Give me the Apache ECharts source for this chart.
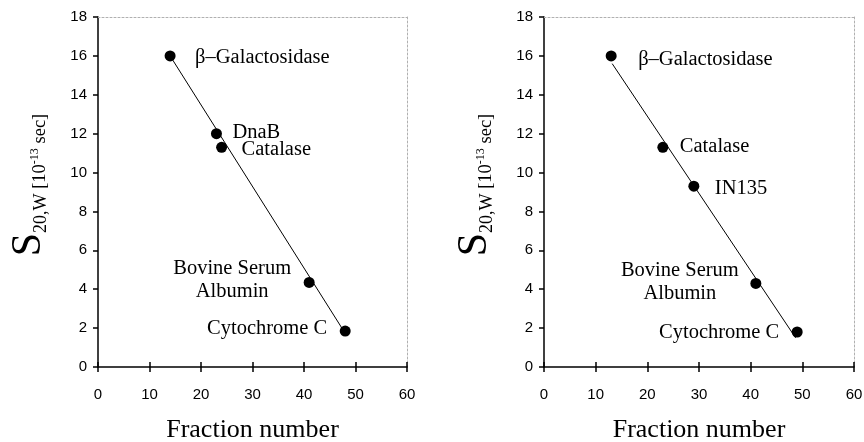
<!DOCTYPE html>
<html>
<head>
<meta charset="utf-8">
<script src="https://cdn.jsdelivr.net/npm/echarts@6/dist/echarts.min.js"></script>
<style>
  html, body { margin: 0; padding: 0; background: #fff; }
  #chart { width: 864px; height: 442px; }
</style>
</head>
<body>
<div id="chart"></div>
<script>
// 左图数据
var fractionA = [14, 23, 24, 41, 48];
var sedimentA = [16, 12, 11.3, 4.35, 1.85];
var proteinsA = ['β–Galactosidase', 'DnaB', 'Catalase', 'Bovine Serum\nAlbumin', 'Cytochrome C'];
var fitXA = [14, 47.6];
var fitYA = [16, 1.9];

// 右图数据
var fractionB = [13, 23, 29, 41, 49];
var sedimentB = [16, 11.3, 9.3, 4.3, 1.8];
var proteinsB = ['β–Galactosidase', 'Catalase', 'IN135', 'Bovine Serum\nAlbumin', 'Cytochrome C'];
var fitXB = [13.2, 48.7];
var fitYB = [15.6, 1.5];

var xTicks = [0, 10, 20, 30, 40, 50, 60];
var yTicks = [0, 2, 4, 6, 8, 10, 12, 14, 16, 18];

// 标签相对点中心的偏移 [dx, dy, align]
var labelPosA = [[25, 2, 'left'], [16, -1, 'left'], [20, 2, 'left'], [-77, -2, 'center'], [-18, -2, 'right']];
var labelPosB = [[27, 4, 'left'], [17, -1, 'left'], [21, 2, 'left'], [-76, -1, 'center'], [-18, 1, 'right']];

var serif = 'Liberation Serif';
var sans = 'Liberation Sans';

function points(xs, ys, names, pos) {
    return xs.map(function (x, i) {
        return {
            value: [x, ys[i]],
            name: names[i],
            label: {
                position: [pos[i][0] + 5.5, pos[i][1] + 5.5],
                align: pos[i][2],
                verticalAlign: 'middle'
            }
        };
    });
}

function mainX(g) {
    return {
        gridIndex: g, type: 'value', min: xTicks[0], max: xTicks[xTicks.length - 1], interval: 10,
        name: 'Fraction number', nameLocation: 'middle', nameGap: 50,
        nameTextStyle: { fontFamily: serif, fontSize: 26, color: '#000' },
        axisLine: { onZero: false, lineStyle: { color: '#000', width: 1.5 } },
        axisTick: { show: true, length: 5, lineStyle: { color: '#000', width: 1.5 } },
        axisLabel: { fontFamily: sans, fontSize: 15, color: '#000', margin: 20 },
        splitLine: { show: false }
    };
}
function innerX(g) {
    return {
        gridIndex: g, type: 'value', min: 0, max: 60, interval: 10, position: 'bottom',
        axisLine: { show: false, onZero: false },
        axisTick: { show: true, inside: true, length: 5, lineStyle: { color: '#000', width: 1.5 } },
        axisLabel: { show: false }, splitLine: { show: false }
    };
}
function frameX(g) {
    return {
        gridIndex: g, type: 'value', min: 0, max: 60, position: 'top',
        axisLine: { show: true, onZero: false, lineStyle: { color: '#b0b0b0', width: 1, type: [2, 2] } },
        axisTick: { show: false }, axisLabel: { show: false }, splitLine: { show: false }
    };
}
function mainY(g) {
    return {
        gridIndex: g, type: 'value', min: yTicks[0], max: yTicks[yTicks.length - 1], interval: 2,
        name: '{s|S}{sub|20,W}{b| [10}{sup|-13}{b| sec]}',
        nameLocation: 'middle', nameGap: 48,
        nameTextStyle: {
            fontFamily: serif, color: '#000', padding: [0, 0, 0, 14],
            rich: {
                s: { fontFamily: serif, fontSize: 42, lineHeight: 42, verticalAlign: 'bottom' },
                sub: { fontFamily: serif, fontSize: 18, lineHeight: 18, verticalAlign: 'bottom' },
                b: { fontFamily: serif, fontSize: 18.5, lineHeight: 18, verticalAlign: 'bottom' },
                sup: { fontFamily: serif, fontSize: 12, lineHeight: 12, verticalAlign: 'bottom', padding: [0, 0, 9, 0] }
            }
        },
        axisLine: { onZero: false, lineStyle: { color: '#000', width: 1.5 } },
        axisTick: { show: true, length: 5, lineStyle: { color: '#000', width: 1.5 } },
        axisLabel: { fontFamily: sans, fontSize: 15, color: '#000', margin: 11 },
        splitLine: { show: false }
    };
}
function frameY(g) {
    return {
        gridIndex: g, type: 'value', min: 0, max: 18, position: 'right',
        axisLine: { show: true, onZero: false, lineStyle: { color: '#b0b0b0', width: 1, type: [2, 2] } },
        axisTick: { show: false }, axisLabel: { show: false }, splitLine: { show: false }
    };
}

function scatter(xi, yi, data) {
    return {
        type: 'scatter', xAxisIndex: xi, yAxisIndex: yi, data: data,
        symbol: 'circle', symbolSize: 11, itemStyle: { color: '#000', opacity: 1 },
        label: {
            show: true, formatter: '{b}', fontFamily: serif, fontSize: 20.5, lineHeight: 23, color: '#000'
        },
        z: 3
    };
}
function fit(xi, yi, xs, ys) {
    return {
        type: 'line', xAxisIndex: xi, yAxisIndex: yi, symbol: 'none',
        data: xs.map(function (x, i) { return [x, ys[i]]; }),
        lineStyle: { color: '#000', width: 1 }, z: 2
    };
}

var chart = echarts.init(document.getElementById('chart'), null, { renderer: 'canvas' });
chart.setOption({
    animation: false,
    backgroundColor: '#fff',
    grid: [
        { left: 98, right: 457, top: 17, bottom: 75, outerBoundsMode: 'none' },
        { left: 544, right: 10, top: 17, bottom: 75, outerBoundsMode: 'none' }
    ],
    xAxis: [mainX(0), mainX(1), frameX(0), frameX(1), innerX(0), innerX(1)],
    yAxis: [mainY(0), mainY(1), frameY(0), frameY(1)],
    series: [
        fit(0, 0, fitXA, fitYA),
        scatter(0, 0, points(fractionA, sedimentA, proteinsA, labelPosA)),
        fit(1, 1, fitXB, fitYB),
        scatter(1, 1, points(fractionB, sedimentB, proteinsB, labelPosB))
    ]
});
</script>
</body>
</html>
